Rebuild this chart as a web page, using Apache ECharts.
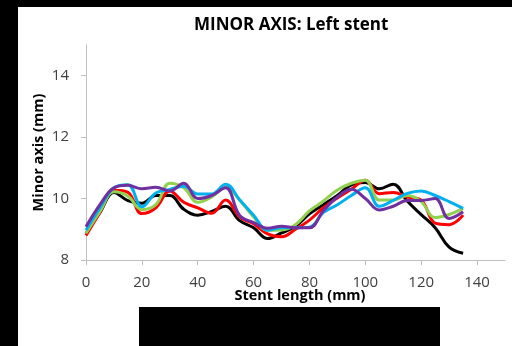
<!DOCTYPE html>
<html>
<head>
<meta charset="utf-8">
<script src="https://cdn.jsdelivr.net/npm/echarts@6/dist/echarts.min.js"></script>
<style>
  html, body { margin: 0; padding: 0; background: #000; }
  body { width: 512px; height: 346px; position: relative; overflow: hidden; }
  #chart { position: absolute; left: 18px; top: 7px; width: 494px; height: 339px; background: #fff; }
  #mask { position: absolute; left: 139px; top: 307px; width: 301px; height: 39px; background: #000; }
</style>
</head>
<body>
<div id="chart"></div>
<div id="mask"></div>
<script>
// stent length (mm)
const lengths = [0, 5, 10, 15, 20, 25, 30, 35, 40, 45, 50, 55, 60, 65, 70, 75, 80, 85, 90, 95, 100, 105, 110, 115, 120, 125, 130, 135];

// minor axis (mm), one array per curve
const blackVals  = [8.87, 9.55, 10.2, 9.93, 9.85, 10.1, 10.1, 9.65, 9.46, 9.58, 9.75, 9.28, 9.05, 8.7, 8.88, 9.1, 9.5, 9.8, 10.1, 10.45, 10.52, 10.32, 10.47, 9.92, 9.48, 9.05, 8.42, 8.22];
const redVals    = [8.8, 9.55, 10.27, 10.2, 9.51, 9.7, 10.25, 9.88, 9.7, 9.52, 9.95, 9.4, 9.18, 8.85, 8.76, 9.0, 9.3, 9.7, 10.02, 10.3, 10.6, 10.16, 10.2, 10.05, 9.95, 9.2, 9.15, 9.46];
const greenVals  = [8.87, 9.58, 10.22, 10.08, 9.64, 9.8, 10.5, 10.35, 9.88, 10.05, 10.38, 9.95, 9.4, 8.97, 8.98, 9.15, 9.6, 9.92, 10.28, 10.5, 10.6, 9.95, 9.95, 10.1, 9.9, 9.38, 9.48, 9.68];
const cyanVals   = [8.97, 9.7, 10.35, 10.45, 9.73, 10.18, 10.3, 10.4, 10.15, 10.15, 10.47, 9.96, 9.46, 8.97, 9.05, 9.05, 9.07, 9.55, 9.8, 10.1, 10.35, 9.75, 9.94, 10.17, 10.25, 10.1, 9.9, 9.68];
const purpleVals = [9.08, 9.8, 10.35, 10.43, 10.32, 10.37, 10.25, 10.5, 10.0, 10.1, 10.35, 9.45, 9.22, 9.03, 9.1, 9.05, 9.05, 9.6, 10.05, 10.3, 10.0, 9.63, 9.75, 9.94, 9.94, 10.0, 9.35, 9.57];

const curves = [
  { vals: blackVals, color: '#000000' },
  { vals: redVals, color: '#ff0000' },
  { vals: greenVals, color: '#92d050' },
  { vals: cyanVals, color: '#00b0f0' },
  { vals: purpleVals, color: '#7030a0' },
];

const chart = echarts.init(document.getElementById('chart'));

const font = '"Open Sans", "Liberation Sans", sans-serif';

const option = {
  animation: false,
  backgroundColor: '#fff',
  title: {
    text: 'MINOR AXIS: Left stent',
    left: 171,
    top: 5,
    textStyle: { fontFamily: font, fontSize: 17, fontWeight: 'bold', color: '#000' },
  },
  grid: {
    left: 68,
    right: 7,
    top: 38,
    bottom: 86,
    containLabel: false,
  },
  xAxis: {
    type: 'value',
    min: 0,
    max: 150,
    interval: 20,
    name: 'Stent length (mm)',
    nameLocation: 'middle',
    nameGap: 28,
    nameMoveOverlap: false,
    nameTextStyle: { fontFamily: font, fontSize: 14.5, fontWeight: 'bold', color: '#000', padding: [0, 0, 0, 9] },
    axisLine: { lineStyle: { color: '#bfbfbf', width: 1 } },
    axisTick: { show: true, length: 5, lineStyle: { color: '#bfbfbf' } },
    axisLabel: { showMaxLabel: false, fontFamily: font, fontSize: 15, color: '#404040', margin: 15 },
    splitLine: { show: false },
  },
  yAxis: {
    type: 'value',
    min: 8,
    max: 15,
    interval: 2,
    name: 'Minor axis (mm)',
    nameLocation: 'middle',
    nameGap: 40,
    nameMoveOverlap: false,
    nameTextStyle: { fontFamily: font, fontSize: 14.5, fontWeight: 'bold', color: '#000' },
    axisLine: { show: true, lineStyle: { color: '#bfbfbf', width: 1 } },
    axisTick: { show: true, length: 5, lineStyle: { color: '#bfbfbf' } },
    axisLabel: { showMaxLabel: false, fontFamily: font, fontSize: 15, color: '#404040', margin: 17 },
    splitLine: { show: false },
  },
  series: curves.map((c) => ({
    type: 'line',
    smooth: 0.4,
    showSymbol: false,
    data: lengths.map((x, i) => [x, c.vals[i]]),
    lineStyle: { color: c.color, width: 3 },
    itemStyle: { color: c.color },
  })),
};

chart.setOption(option);
</script>
</body>
</html>
